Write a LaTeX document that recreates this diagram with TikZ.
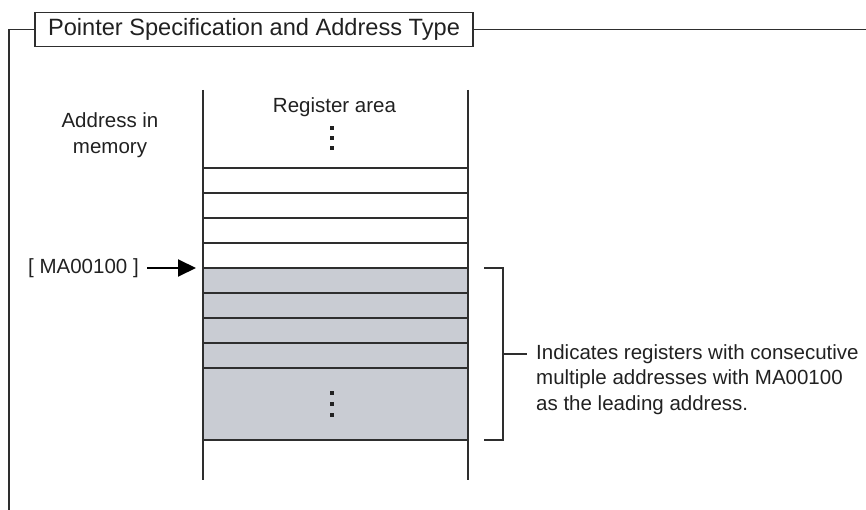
\documentclass[tikz,border=0pt]{standalone}
\usepackage{fontspec}
\setmainfont{Liberation Sans}
\usetikzlibrary{arrows.meta}
\definecolor{regfill}{HTML}{C9CCD3}
\definecolor{linec}{HTML}{2E2E2E}
\begin{document}
\begin{tikzpicture}[x=1pt,y=-1pt,
  frameline/.style={draw=linec,line width=1.2pt},
  regline/.style={draw=linec,line width=1.1pt},
  txt/.style={inner sep=0pt,font=\fontsize{20.5}{25.5}\selectfont,text=black!87},
  dotsq/.style={fill=black!87,minimum size=3.4pt,inner sep=0pt}]
\useasboundingbox (0,0) rectangle (866,510);
% frame
\node[draw=linec,line width=1.2pt,minimum width=438pt,minimum height=34pt,inner sep=0pt,
  font=\fontsize{23.6}{28}\selectfont,text=black!87] (title) at (254,29.5) {Pointer Specification and Address Type};
\coordinate (fb) at (9,510);
\coordinate (fr) at (866,29.5);
\draw[frameline] (fb) |- (title.west);
\draw[frameline] (title.east) -- (fr);
% register area
\fill[regfill] (203,268) rectangle (468,440);
\foreach \yy in {168,193,218,243,268,293,318,343,368,440}
  \draw[regline] (203,\yy) -- (468,\yy);
\coordinate (lt) at (203,90); \coordinate (lb) at (203,480);
\coordinate (rt) at (468,90); \coordinate (rb) at (468,480);
\draw[regline] (lt) -- (lb);
\draw[regline] (rt) -- (rb);
% texts
\node[txt] (reg) at (334.5,107) {Register area};
\node[txt,align=center] (addr) at (110,135) {Address in\\memory};
\node[txt,anchor=west] (ma) at (28,268) {[ MA00100 ]};
\coordinate (arrend) at (196,268);
\draw[line width=2pt,-{Triangle[length=18pt,width=17pt]}] (147,268) -- (arrend);
% dots
\foreach \yy in {128,138,148} \node[dotsq] at (332,\yy) {};
\foreach \yy in {393,404,415} \node[dotsq] at (332,\yy) {};
% bracket
\coordinate (bt) at (484,268); \coordinate (bb) at (484,440);
\coordinate (bm) at (503,354);
\draw[regline] (bt) -- (503,268) -- (503,440) -- (bb);
\node[txt,anchor=west,align=left] (desc) at (536,379.5) {Indicates registers with consecutive\\multiple addresses with MA00100\\as the leading address.};
\draw[regline] (bm) -- ++(24,0);
\end{tikzpicture}
\end{document}
